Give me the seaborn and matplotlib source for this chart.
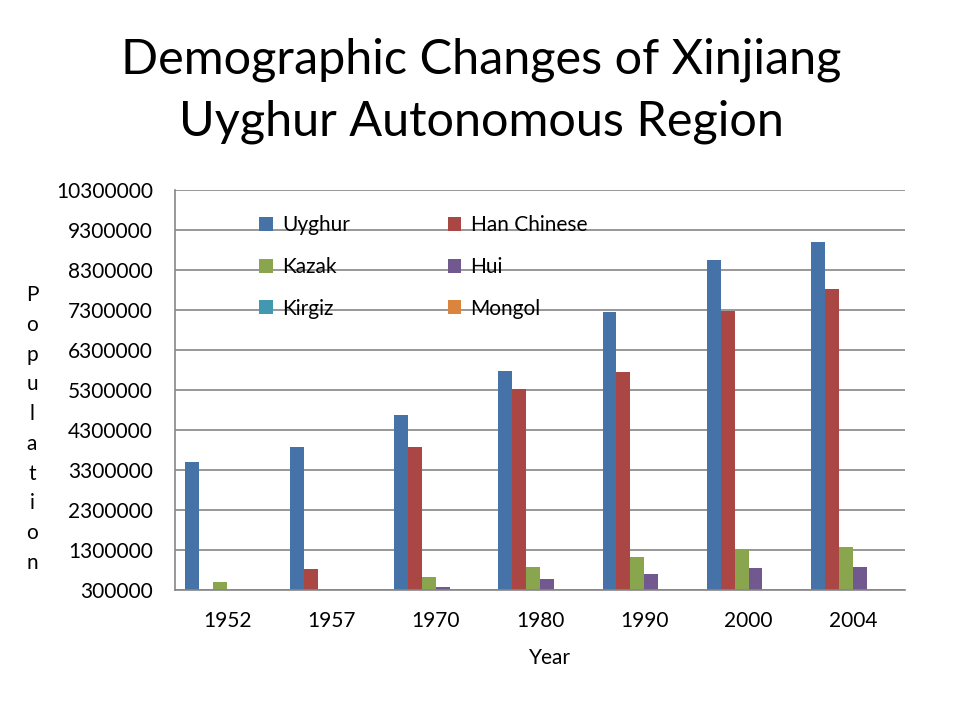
import matplotlib
matplotlib.use("Agg")
import matplotlib.pyplot as plt
import seaborn as sns
import pandas as pd
import numpy as np
from matplotlib.ticker import FixedLocator, NullFormatter
from matplotlib.patches import Patch

years = ["1952", "1957", "1970", "1980", "1990", "2000", "2004"]
uyghur = [3500000, 3880000, 4680000, 5780000, 7250000, 8550000, 9000000]
han = [290000, 830000, 3880000, 5320000, 5750000, 7280000, 7830000]
kazak = [500000, 0, 630000, 880000, 1130000, 1330000, 1380000]
hui = [0, 0, 380000, 580000, 710000, 860000, 880000]
kirgiz = [70000, 70000, 90000, 110000, 140000, 160000, 170000]
mongol = [60000, 60000, 100000, 120000, 140000, 150000, 160000]

groups = ["Uyghur", "Han Chinese", "Kazak", "Hui", "Kirgiz", "Mongol"]
colors = ["#4572A7", "#AA4643", "#89A54E", "#71588F", "#4198AF", "#DB843D"]
yticks = [300000 + 1000000 * i for i in range(11)]

series = [uyghur, han, kazak, hui, kirgiz, mongol]
rows = []
for g, vals in zip(groups, series):
    for y, v in zip(years, vals):
        rows.append({"Year": y, "Group": g, "Population": v})
df = pd.DataFrame(rows)

sns.set_style("white")
plt.rcParams["font.family"] = ["Lato", "DejaVu Sans"]
plt.rcParams["text.color"] = "black"
plt.rcParams["xtick.labelcolor"] = "black"
plt.rcParams["ytick.labelcolor"] = "black"

FS = 15

fig = plt.figure(figsize=(9.6, 7.2), dpi=100)
ax = fig.add_axes([175 / 960, 130 / 720, 730 / 960, 400 / 720])

sns.barplot(data=df, x="Year", y="Population", hue="Group", order=years,
            hue_order=groups, palette=colors, width=0.8, ax=ax,
            saturation=1, legend=False, linewidth=0)

ax.set_ylim(300000, 10300000)
ax.set_xlim(-0.5, len(years) - 0.5)
ax.set_yticks(yticks)
ax.set_yticklabels([str(t) for t in yticks])
ax.yaxis.grid(True, color="#868686", linewidth=1.2)
ax.set_axisbelow(True)
for s in ["top", "right"]:
    ax.spines[s].set_visible(False)
for s in ["left", "bottom"]:
    ax.spines[s].set_color("#868686")
    ax.spines[s].set_linewidth(1.2)

ax.tick_params(axis="y", which="major", direction="out", length=6,
               color="#868686", labelsize=FS, pad=10, labelcolor="black")
ax.tick_params(axis="x", which="major", length=0, labelsize=FS, pad=15,
               labelcolor="black")
ax.xaxis.set_minor_locator(FixedLocator([i - 0.5 for i in range(len(years) + 1)]))
ax.xaxis.set_minor_formatter(NullFormatter())
ax.tick_params(axis="x", which="minor", direction="out", length=6,
               color="#868686", width=1.2)
ax.set_xlabel("")
ax.set_ylabel("")

fig.text(550 / 960, 1 - 658 / 720, "Year", ha="center", va="center", fontsize=FS)
fig.text(32 / 960, 1 - 429 / 720, "\n".join("Population"), ha="center",
         va="center", fontsize=FS, linespacing=1.61)

fig.text(481 / 960, 1 - 60 / 720, "Demographic Changes of Xinjiang",
         ha="center", va="center", fontsize=35)
fig.text(481 / 960, 1 - 122 / 720, "Uyghur Autonomous Region",
         ha="center", va="center", fontsize=35)

order = [0, 2, 4, 1, 3, 5]
handles = [Patch(facecolor=colors[i], edgecolor="none") for i in order]
labels = [groups[i] for i in order]
ax.legend(handles, labels, ncol=2, loc="upper left",
          bbox_to_anchor=((259 - 175) / 730, 1 - 25 / 400), frameon=False,
          fontsize=FS, handlelength=0.65, handleheight=0.65,
          handletextpad=0.45, labelspacing=1.05, columnspacing=4.7,
          borderpad=0, borderaxespad=0)

fig.savefig("out.png", dpi=100, facecolor="white")
